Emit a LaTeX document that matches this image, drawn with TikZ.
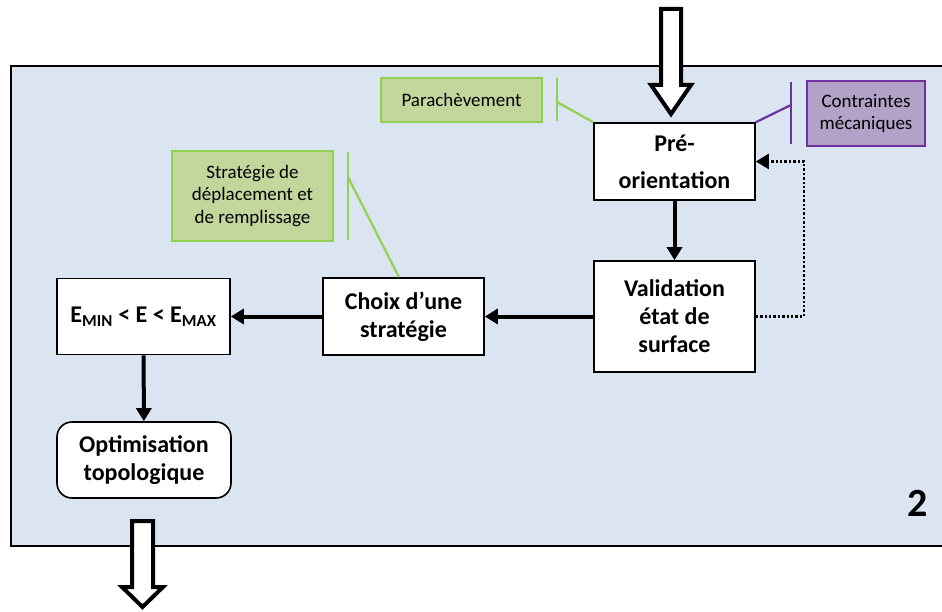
\documentclass[tikz,border=0pt]{standalone}
\usepackage{fontspec}
\setmainfont{Carlito}
\usetikzlibrary{arrows.meta}

\definecolor{panelblue}{HTML}{DBE5F1}
\definecolor{notegreen}{HTML}{C3D69B}
\definecolor{linegreen}{HTML}{92D050}
\definecolor{notepurple}{HTML}{B3A2C7}
\definecolor{linepurple}{HTML}{7030A0}

\begin{document}
\begin{tikzpicture}[x=1pt,y=-1pt,>={Triangle[length=13pt,width=15pt]},
 stepbox/.style={draw,line width=1.6pt,fill=white,align=center,inner sep=2pt,
  font=\fontsize{24}{28}\selectfont\bfseries},
 greennote/.style={draw=linegreen,line width=2.6pt,fill=notegreen,align=center,
  font=\fontsize{19}{22.5}\selectfont},
 purplenote/.style={draw=linepurple,line width=2.6pt,fill=notepurple,align=center,
  font=\fontsize{19}{22.5}\selectfont},
 flow/.style={line width=4pt,->},
 hollow/.style={draw,line width=4pt,fill=white,line join=miter}]
 \useasboundingbox (0,0) rectangle (942,612);

 % panel
 \filldraw[fill=panelblue,draw=black,line width=1.6pt] (11,66) rectangle (952,546);
 \node[font=\fontsize{40}{40}\selectfont\bfseries] (num) at (918,503) {2};

 % steps
 \node[stepbox,minimum width=161pt,minimum height=77pt] (pre) at (674.5,161.5) {Pré-\\[9pt]orientation};
 \node[stepbox,minimum width=161pt,minimum height=111pt] (valid) at (674.5,316.5) {Validation\\état de\\surface};
 \node[stepbox,minimum width=161pt,minimum height=77pt] (choix) at (403.5,316.5) {Choix d’une\\stratégie};
 \node[stepbox,minimum width=173pt,minimum height=76pt] (energ) at (143.5,316.5)
  {E\textsubscript{MIN} < E < E\textsubscript{MAX}};
 \node[stepbox,rounded corners=15pt,minimum width=174pt,minimum height=76pt] (optim) at (144,460)
  {Optimisation\\topologique};

 % notes
 \node[greennote,minimum width=161pt,minimum height=44pt] (parach) at (461.5,100) {Parachèvement};
 \node[greennote,minimum width=161pt,minimum height=90pt] (strat) at (252.5,196)
  {Stratégie de\\déplacement et\\de remplissage};
 \node[purplenote,minimum width=118pt,minimum height=65pt] (contr) at (866,113.5)
  {Contraintes\\mécaniques};

 % note brackets
 \coordinate (parbar) at (557,102);
 \draw[linegreen,line width=2.6pt] (557,78) -- (557,121);
 \draw[linegreen,line width=2.2pt] (parbar) -- (pre.north west);
 \coordinate (stratbar) at (348,177);
 \draw[linegreen,line width=2.6pt] (348,152) -- (348,240);
 \draw[linegreen,line width=2.2pt] (stratbar) -- (choix.north -| 399,0);
 \coordinate (contrbar) at (791,105);
 \draw[linepurple,line width=2.6pt] (791,82) -- (791,144);
 \draw[linepurple,line width=2.2pt] (contrbar) -- (pre.north east);

 % flow
 \draw[flow] (pre) -- (valid);
 \draw[flow] (valid) -- (choix);
 \draw[flow] (choix) -- (energ);
 \draw[flow] (energ) -- (optim);
 \draw[line width=2.4pt,dotted,->] (valid.east) -- ++(48,0) |- (pre.east);

 % in and out
 \draw[hollow] (661,9) -- (681,9) -- (681,85) -- (691,85) -- (671,114)
  -- (651,85) -- (661,85) -- cycle;
 \draw[hollow] (132,521) -- (153,521) -- (153,587) -- (163,587) -- (142.5,607)
  -- (122,587) -- (132,587) -- cycle;
\end{tikzpicture}
\end{document}
